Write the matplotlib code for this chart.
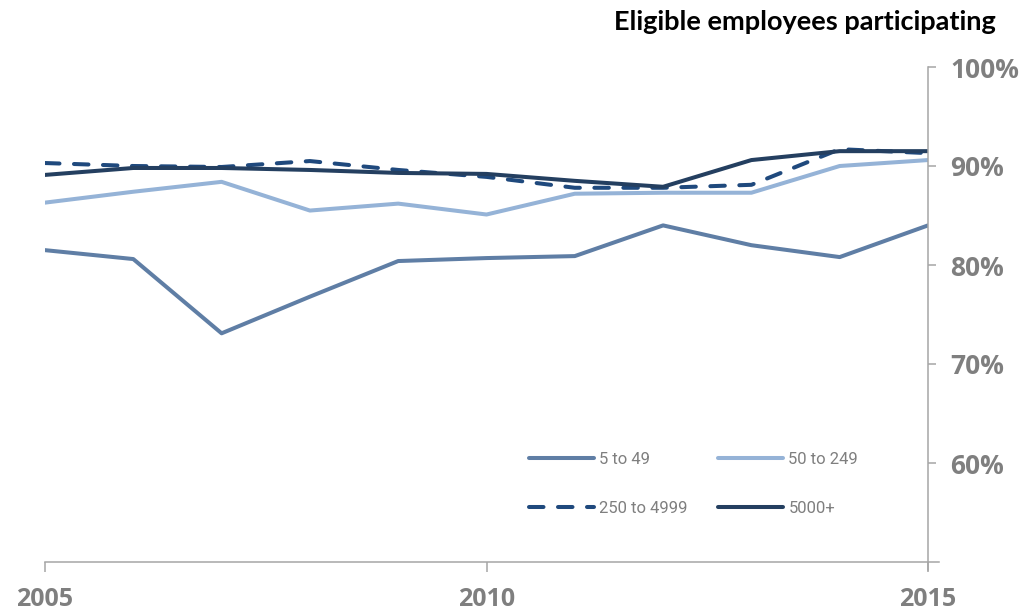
import matplotlib
matplotlib.use("Agg")
import matplotlib.pyplot as plt
from matplotlib.lines import Line2D

years = [2005, 2006, 2007, 2008, 2009, 2010, 2011, 2012, 2013, 2014, 2015]
size_5_49 = [81.5, 80.6, 73.1, 76.8, 80.4, 80.7, 80.9, 84.0, 82.0, 80.8, 84.0]
size_50_249 = [86.3, 87.4, 88.4, 85.5, 86.2, 85.1, 87.2, 87.3, 87.3, 90.0, 90.6]
size_250_4999 = [90.3, 90.0, 89.9, 90.5, 89.6, 88.9, 87.8, 87.8, 88.1, 91.7, 91.3]
size_5000_plus = [89.1, 89.8, 89.8, 89.6, 89.3, 89.2, 88.5, 87.9, 90.6, 91.5, 91.5]
series_labels = ["5 to 49", "50 to 249", "250 to 4999", "5000+"]
x_ticks = [2005, 2010, 2015]
y_ticks = [60, 70, 80, 90, 100]
title = "Eligible employees participating"

axis_grey = "#a6a6a6"
label_grey = "#7f7f7f"
tick_font = ["Liberation Sans Narrow", "Open Sans", "DejaVu Sans"]

fig = plt.figure(figsize=(10.24, 6.11), dpi=100)
ax = fig.add_axes([45 / 1024, 1 - 562 / 611, (928 - 45) / 1024, (562 - 67) / 611])

lw = 2.9
l1, = ax.plot(years, size_5_49, color="#5f7ea5", lw=lw, solid_capstyle="round", label=series_labels[0])
l2, = ax.plot(years, size_50_249, color="#95b3d7", lw=lw, solid_capstyle="round", label=series_labels[1])
l3, = ax.plot(years, size_250_4999, color="#1f497d", lw=lw, dashes=(3.6, 3.6),
              dash_capstyle="round", label=series_labels[2])
l4, = ax.plot(years, size_5000_plus, color="#243f60", lw=lw, solid_capstyle="round", label=series_labels[3])

ax.set_xlim(2005, 2015)
ax.set_ylim(50, 100)

for side in ["left", "top", "right", "bottom"]:
    ax.spines[side].set_visible(False)

# axis lines that run slightly past their crossing point
ax.add_line(Line2D([0, 1.012], [0, 0], transform=ax.transAxes, color=axis_grey,
                   lw=1.1, clip_on=False))
ax.add_line(Line2D([1, 1], [-0.017, 1], transform=ax.transAxes, color=axis_grey,
                   lw=1.1, clip_on=False))

ax.yaxis.tick_right()
ax.set_yticks(y_ticks)
ax.set_yticklabels([f"{v}%" for v in y_ticks])
ax.tick_params(axis="y", direction="out", length=6, width=1.1, color=axis_grey,
               pad=10, labelsize=19, labelcolor=label_grey)
ax.set_xticks(x_ticks)
ax.set_xticklabels([str(v) for v in x_ticks])
ax.tick_params(axis="x", direction="out", length=7, width=1.1, color=axis_grey,
               pad=11, labelsize=18, labelcolor=label_grey)
for lab in ax.get_xticklabels() + ax.get_yticklabels():
    lab.set_family(tick_font)
    lab.set_fontweight("bold")

fig.text(996 / 1024, 1 - 22 / 611, title, ha="right", va="center",
         fontsize=19.5, fontweight="bold", family=["Lato", "DejaVu Sans"], color="black")

# legend rows: (5 to 49, 50 to 249) then (250 to 4999, 5000+)
handles = [l1, l3, l2, l4]
labels = [h.get_label() for h in handles]
leg = fig.legend(handles, labels, loc="upper left",
                 bbox_to_anchor=(529 / 1024, 1 - 452 / 611),
                 ncol=2, frameon=False, handlelength=3.9,
                 handletextpad=0.3, columnspacing=1.85, labelspacing=2.05,
                 borderpad=0, borderaxespad=0,
                 prop={"family": ["Roboto", "DejaVu Sans"], "size": 12})
for txt in leg.get_texts():
    txt.set_color(label_grey)

fig.savefig("out.png", dpi=100, facecolor="white")
